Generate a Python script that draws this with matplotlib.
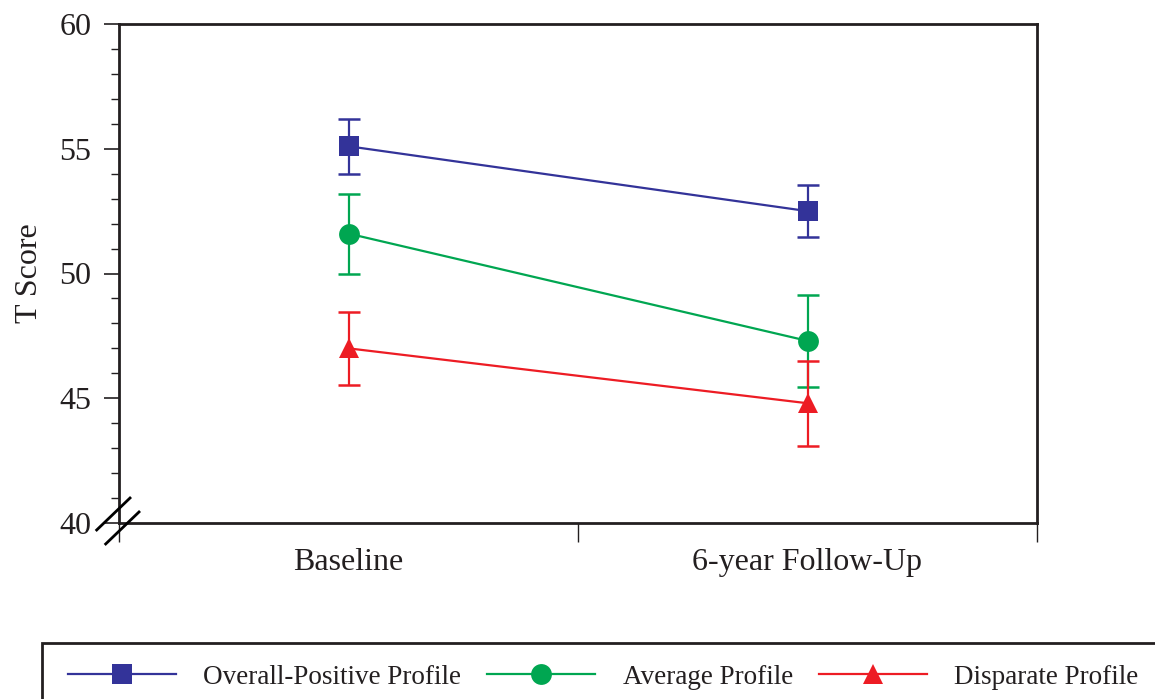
import matplotlib
matplotlib.use("Agg")
import matplotlib.pyplot as plt
from matplotlib.patches import Rectangle
from matplotlib.ticker import FixedLocator, MultipleLocator, NullFormatter, FixedFormatter

plt.rcParams["font.family"] = ["Liberation Serif", "DejaVu Serif"]

# Mean T scores with standard errors at each assessment
timepoints = ["Baseline", "6-year Follow-Up"]
series_names = ["Overall-Positive Profile", "Average Profile", "Disparate Profile"]
overall_mean = [55.1, 52.5]
overall_err = [1.1, 1.05]
average_mean = [51.6, 47.3]
average_err = [1.6, 1.85]
disparate_mean = [47.0, 44.8]
disparate_err = [1.45, 1.7]

ink = "#231F20"
colors = ["#333399", "#00A651", "#ED1C24"]
markers = ["s", "o", "^"]
sizes = [15, 15, 15]

fig = plt.figure(figsize=(11.55, 6.99), dpi=100)
ax = fig.add_axes([119 / 1155, 1 - 523 / 699, 918 / 1155, 499 / 699])

x_pos = [1, 3]
means = [overall_mean, average_mean, disparate_mean]
errs = [overall_err, average_err, disparate_err]

handles = []
for m, e, c, mk, ms in zip(means, errs, colors, markers, sizes):
    cont = ax.errorbar(x_pos, m, yerr=e, color=c, marker=mk, markersize=ms,
                       linewidth=1.6, elinewidth=1.6, capsize=8, capthick=1.8,
                       zorder=3)
    data_line = cont.lines[0]
    data_line.set_markeredgewidth(0)
    handles.append(data_line)

ax.set_xlim(0, 4)
ax.set_ylim(40, 60)

# x axis: boundary ticks at 0/2/4, category labels centred between them
ax.xaxis.set_major_locator(FixedLocator([0, 2, 4]))
ax.xaxis.set_major_formatter(NullFormatter())
ax.xaxis.set_minor_locator(FixedLocator(x_pos))
ax.xaxis.set_minor_formatter(FixedFormatter(timepoints))
ax.tick_params(axis="x", which="major", direction="out", length=14, width=1.0,
               color=ink)
ax.tick_params(axis="x", which="minor", length=0, pad=18, labelsize=23,
               labelcolor=ink)

# y axis
ax.yaxis.set_major_locator(MultipleLocator(5))
ax.yaxis.set_minor_locator(MultipleLocator(1))
ax.tick_params(axis="y", which="major", direction="out", length=11, width=1.2,
               color=ink, pad=9, labelsize=23, labelcolor=ink)
ax.tick_params(axis="y", which="minor", direction="out", length=6, width=1.0,
               color=ink)
ax.set_ylabel("T Score", fontsize=23, color=ink, labelpad=11)

for sp in ax.spines.values():
    sp.set_linewidth(2.0)
    sp.set_color(ink)

# axis break marks at the origin
for dx, dy in [(0.0, 0.0), (0.0098, -0.028)]:
    ax.plot([-0.0243 + dx, 0.012 + dx], [-0.014 + dy, 0.0501 + dy],
            transform=ax.transAxes, color="black", linewidth=2.0,
            clip_on=False, zorder=5)

# legend box runs off the bottom/right edge of the page
fig.patches.append(Rectangle((42 / 1155, -0.1), 1.2, (699 - 643) / 699 + 0.1,
                             transform=fig.transFigure, fill=False,
                             edgecolor=ink, linewidth=2.0))
leg = fig.legend(handles, series_names, loc="center left",
                 bbox_to_anchor=(68 / 1155, 1 - 677 / 699), ncol=3,
                 fontsize=19.5, handlelength=4.0, handletextpad=1.0,
                 columnspacing=0.95, borderpad=0.0, borderaxespad=0.0,
                 numpoints=1, frameon=False)
for t in leg.get_texts():
    t.set_color(ink)

fig.savefig("out.png", dpi=100)
